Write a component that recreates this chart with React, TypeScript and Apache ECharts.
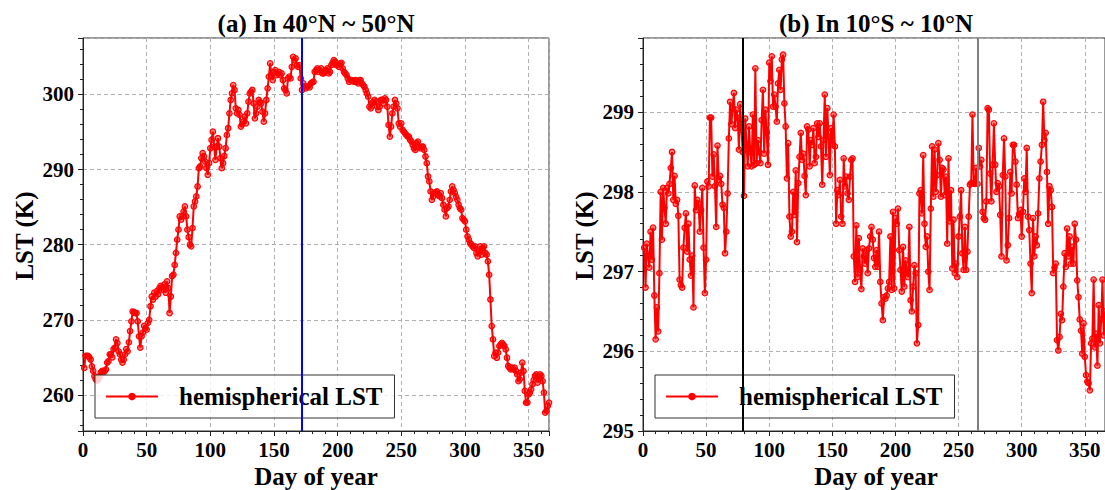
import React, { useEffect, useRef } from "react";
import * as echarts from "echarts";

const titleA = "(a) In 40°N ~ 50°N";
const titleB = "(b) In 10°S ~ 10°N";
const seriesName = "hemispherical LST";
const xName = "Day of year";
const yName = "LST (K)";

// Day-of-year reference lines
const linesA = [{ day: 172, color: "#0000ff" }];
const linesB = [
  { day: 79, color: "#000000" },
  { day: 265, color: "#808080" },
];

// Panel (a): daily LST, 40°N ~ 50°N, days 1..366
const lstA = [
  263.6, 265.2, 265.2, 265.2, 265.0, 264.7, 263.8, 263.2, 262.5, 262.1,
  261.9, 262.1, 262.5, 263.0, 263.2, 263.0, 263.2, 263.4, 264.3, 264.5,
  265.4, 265.4, 265.0, 266.1, 266.3, 267.4, 266.9, 265.8, 265.4, 264.7,
  264.3, 264.7, 265.4, 266.1, 265.8, 267.0, 268.5, 269.8, 271.1, 271.0,
  270.9, 270.9, 269.8, 267.8, 266.3, 267.8, 268.3, 269.2, 268.9, 268.7,
  269.6, 270.0, 271.8, 273.1, 272.7, 273.6, 273.1, 273.8, 273.4, 274.2,
  274.5, 274.3, 274.0, 274.7, 273.6, 275.1, 274.2, 270.9, 273.1, 275.8,
  276.0, 277.3, 278.9,
  280.66, 281.99, 283.76, 283.32, 283.76, 284.42, 285.09, 283.76, 281.99, 281.0,
  280.0, 279.78, 282.21, 285.09, 285.75, 286.42, 287.74, 290.18, 290.4, 291.5,
  292.17, 291.73, 291.06, 290.2, 289.29, 290.84, 292.83, 293.94, 295.04, 293.05,
  291.28, 293.05, 294.16, 293.05, 291.5, 290.18, 290.84, 291.8, 292.83, 294.6,
  295.49, 297.48, 299.25, 300.13, 301.24, 300.58, 298.14, 297.48, 297.92, 297.26,
  295.71, 296.0, 296.37, 297.04, 296.15, 297.48, 299.03, 300.13, 300.35, 300.58,
  298.81, 296.81, 297.48, 298.36, 299.25, 299.0, 298.81, 297.7, 296.37, 297.48,
  299.25, 300.8, 302.35, 304.12, 302.57, 301.9, 303.0, 303.23, 302.57, 302.8,
  303.0, 302.57, 302.79, 301.9, 300.8, 300.58, 300.13, 302.12, 302.35, 302.12,
  303.67, 305.0, 304.56, 304.78, 303.89, 303.67, 303.89, 302.12, 300.58, 301.46,
  301.02, 300.8, 301.02, 301.1, 300.93, 301.46, 301.6, 301.68, 303.0, 303.23,
  303.45, 303.0, 303.23, 303.45, 302.79, 302.79, 303.0, 303.23, 303.45, 302.79,
  303.0, 303.89, 304.2, 304.56, 304.34, 303.89, 303.89, 303.67, 304.12, 304.2,
  303.45, 303.0, 302.79, 302.57, 302.12, 301.68, 301.9, 301.9, 301.8, 301.68,
  301.9, 301.68, 301.46, 301.9, 301.9, 301.46, 301.24, 301.02, 300.58, 300.13,
  299.69, 298.36, 298.14, 298.81, 299.0, 299.25, 299.03, 298.36, 297.92, 298.36,
  299.25, 299.25, 298.81, 299.47, 299.25, 298.36, 295.93, 294.38, 295.71, 297.48,
  298.36, 299.25, 298.81, 298.14, 296.15, 295.71, 296.15, 295.27, 295.04, 294.82,
  294.6, 294.38, 294.38, 293.94, 293.72, 293.27, 292.83, 292.61,
  293.5, 293.72, 293.05, 292.83, 293.05, 293.05, 292.61, 291.73, 290.84, 289.07,
  288.41, 287.08, 285.97, 286.42, 286.86, 287.0, 287.08, 286.64, 286.42, 286.86,
  286.19, 285.31, 284.65, 283.76, 284.87, 285.09, 285.97, 287.08, 287.74, 287.3,
  286.86, 286.4, 285.97, 285.31, 284.87, 284.65, 283.54, 283.32, 283.1, 281.99,
  281.11, 280.66, 280.22, 280.0, 279.78, 279.56,
  279.78, 278.89, 278.45, 279.11, 279.78, 278.67, 279.55, 279.78, 278.89, 278.67,
  277.78, 276.01, 272.7, 269.16, 267.39, 265.17, 265.62, 264.95, 265.62, 266.5,
  266.7, 266.94, 266.72, 266.5, 266.06, 264.95, 263.85, 263.63, 263.4, 263.63,
  263.4, 263.63, 263.2, 262.74, 261.85, 262.08, 262.96, 264.29, 263.18, 260.53,
  258.98, 258.98, 260.08, 260.31, 260.75, 261.41, 262.0, 262.52, 262.74, 261.63,
  262.08, 262.74, 262.52, 261.85, 260.31, 257.65, 257.87, 258.54, 258.98,
];

// Panel (b): daily LST, 10°S ~ 10°N, days 1..366
const lstB = [
  297.3, 296.8, 297.35, 297.2, 297.05, 297.5, 297.15, 297.55, 296.7, 296.15,
  296.55, 296.25, 296.98, 298.0, 297.4, 298.05, 297.8, 297.6, 298.05, 297.98,
  298.1, 298.3, 298.5, 297.9, 298.2, 297.85, 297.9, 297.7, 296.9, 296.83,
  296.8, 297.3, 297.55, 297.73, 297.25, 297.6, 297.15, 296.95, 297.2, 296.55,
  298.08, 297.77, 297.9, 297.85, 297.5, 297.77, 298.05, 297.3, 296.73, 297.15,
  298.13, 298.07, 298.93, 298.93, 298.19, 298.47, 298.07, 297.56, 298.58, 298.15,
  298.2, 298.1, 297.84, 297.8, 297.23, 297.5, 297.98, 298.67, 299.13, 298.85,
  299.05, 299.24, 298.8, 299.03, 298.93, 298.53, 299.1, 298.78, 298.5, 297.95,
  298.92, 298.6, 298.32, 298.82, 298.5, 298.32, 298.97, 298.34, 299.55, 298.36,
  298.65, 298.5, 298.36, 298.9, 299.28, 298.48, 299.03, 298.74, 298.34, 299.62,
  299.39, 299.7, 299.07, 299.22, 299.07, 298.88, 299.36, 299.53, 299.28, 299.66,
  299.72, 299.11, 298.82, 298.17, 298.61, 297.69, 297.44, 297.5, 298.0, 297.71,
  298.27, 297.37, 298.11, 298.44, 298.74, 298.4, 298.48, 298.2, 297.96, 298.82,
  298.78, 298.32, 298.65, 298.59, 298.8, 298.36, 298.44, 298.86, 298.69, 298.86,
  298.57, 298.09, 298.65, 299.22, 298.44, 299.05, 298.69, 298.21, 298.8, 298.6,
  298.97, 298.57, 297.6, 298.02, 297.96, 298.15, 297.69, 297.6, 298.42, 298.07,
  298.19, 297.98, 297.9, 298.19, 298.4, 298.42, 297.19, 296.87, 297.58, 296.93,
  297.42, 297.02, 296.78, 297.29, 297.19, 297.1, 297.27, 296.98, 297.29, 297.44,
  297.56, 297.4, 297.17, 297.06, 297.27, 297.06, 297.5, 296.87, 296.6, 296.39,
  296.68, 296.66, 296.7, 296.79, 296.87, 297.44, 296.77, 297.75, 296.79, 297.67,
  297.6, 297.79, 297.27, 297.02, 296.75, 297.31, 296.81, 297.14, 296.98, 296.93,
  297.56, 296.64, 296.5, 296.81, 297.08, 296.98, 296.1, 296.33, 297.98, 298.02,
  297.73, 298.46, 297.6, 297.31, 297.44, 297.0, 296.77, 297.79, 298.57, 297.94,
  298.53, 298.0, 298.21, 298.61, 298.4, 297.94, 298.3, 298.28, 297.96, 298.19,
  297.35, 298.42, 297.63, 298.02, 297.04, 297.65, 296.98, 297.1, 296.93, 297.44,
  297.69, 298.02, 297.23, 297.02, 297.56, 297.02, 297.25, 297.69, 298.09, 298.11,
  298.97, 298.11, 298.1, 298.3, 298.1, 298.55, 298.32, 298.4, 297.75, 297.67,
  297.65, 297.88, 299.05, 299.03, 298.23, 297.88, 298.34, 298.86, 298.34, 298.0,
  298.11, 298.07, 297.71, 297.19, 298.21, 298.67, 298.19, 297.14, 297.33, 297.67,
  298.25, 297.98, 298.59, 298.59, 298.38, 298.09, 297.67, 297.72, 297.77, 297.44,
  297.75, 298.17, 298.0, 298.55, 297.69, 297.52, 297.1, 296.73, 297.67, 297.19,
  297.44, 297.33, 297.73, 298.17, 298.38, 298.59, 299.13, 298.65, 298.74, 298.25,
  297.6, 298.07, 298.02, 297.81, 296.98, 297.05, 297.1, 296.14, 296.01, 296.18,
  296.47, 296.39, 296.81, 297.23, 297.06, 297.54, 297.19, 297.44, 297.1, 297.31,
  297.1, 297.6, 297.4, 296.89, 296.68, 296.4, 296.26, 295.97, 296.35, 295.93,
  295.7, 295.62, 295.6, 295.51, 296.1, 296.16, 296.9, 296.05, 296.22, 295.82,
  296.58, 296.1, 296.4, 296.9, 296.2, 296.5,
];

const FONT = "'Liberation Serif', 'Times New Roman', serif";
const AXIS_COLOR = "#222";

const toPairs = (vals: number[]) => vals.map((v, i) => [i + 1, v]);

function makeXAxis(gridIndex: number) {
  return {
    type: "value",
    gridIndex,
    min: 0,
    max: 366,
    interval: 50,
    axisLine: { show: true, onZero: false, lineStyle: { color: AXIS_COLOR, width: 1 } },
    axisTick: { show: true, length: 5, lineStyle: { color: AXIS_COLOR, width: 1 } },
    minorTick: { show: true, splitNumber: 5, length: 3, lineStyle: { color: AXIS_COLOR, width: 1 } },
    axisLabel: {
      margin: 8,
      fontFamily: FONT,
      fontWeight: "bold",
      fontSize: 21,
      color: "#000",
      showMaxLabel: false,
    },
    splitLine: { show: true, lineStyle: { color: "#b0b0b0", width: 1, type: [4, 3] } },
  };
}

function makeYAxis(gridIndex: number, min: number, max: number, extra: any) {
  const { hideMin, ...rest } = extra;
  return {
    type: "value",
    gridIndex,
    min,
    max,
    ...rest,
    axisLine: { show: true, onZero: false, lineStyle: { color: AXIS_COLOR, width: 1 } },
    axisTick: { show: true, length: 5, lineStyle: { color: AXIS_COLOR, width: 1 } },
    minorTick: { show: true, splitNumber: 5, length: 3, lineStyle: { color: AXIS_COLOR, width: 1 } },
    axisLabel: {
      margin: 9,
      fontFamily: FONT,
      fontWeight: "bold",
      fontSize: 21,
      color: "#000",
      showMaxLabel: false,
      ...(hideMin ? { showMinLabel: false } : {}),
    },
    splitLine: { show: true, lineStyle: { color: "#b0b0b0", width: 1, type: [4, 3] } },
  };
}

function makeSeries(idx: number, vals: number[], lines: { day: number; color: string }[]) {
  return {
    type: "line",
    name: seriesName,
    xAxisIndex: idx,
    yAxisIndex: idx,
    data: toPairs(vals),
    symbol: "circle",
    symbolSize: 5.5,
    showSymbol: true,
    lineStyle: { color: "#ff0000", width: 2 },
    itemStyle: { color: "rgba(255,0,0,0.5)", borderColor: "#ff0000", borderWidth: 1.2 },
    emphasis: { disabled: true },
    markLine: {
      silent: true,
      symbol: ["none", "none"],
      label: { show: false },
      emphasis: { disabled: true },
      lineStyle: { type: "solid", width: 2 },
      data: lines.map((l) => ({ xAxis: l.day, lineStyle: { color: l.color, width: 2, type: "solid" } })),
    },
  };
}

function makeLegend(left: number) {
  return {
    data: [{ name: seriesName, itemStyle: { color: "#ff0000", borderColor: "#ff0000" } }],
    left,
    top: 375,
    orient: "horizontal",
    selectedMode: false,
    padding: [9, 12, 9, 10],
    itemWidth: 52,
    itemHeight: 7,
    backgroundColor: "rgba(255,255,255,0.8)",
    borderColor: "#333",
    borderWidth: 1,
    borderRadius: 0,
    textStyle: {
      fontFamily: FONT,
      fontWeight: "bold",
      fontSize: 25,
      color: "#000",
      lineHeight: 25,
      padding: [0, 0, 0, 16],
    },
  };
}

function textEl(text: string, x: number, y: number, rotate = false) {
  return {
    type: "text",
    x,
    y,
    rotation: rotate ? Math.PI / 2 : 0,
    style: {
      text,
      fontFamily: FONT,
      fontWeight: "bold",
      fontSize: 25,
      fill: "#000",
      align: "center",
      verticalAlign: "middle",
      textAlign: "center",
      textVerticalAlign: "middle",
    },
  };
}

export default function App() {
  const ref = useRef<HTMLDivElement>(null);
  useEffect(() => {
    if (!ref.current) return;
    const chart = echarts.init(ref.current, undefined, { renderer: "svg" });
    const gridStyle = { show: true, borderColor: "#333", borderWidth: 1, backgroundColor: "transparent" };
    chart.setOption({
      animation: false,
      backgroundColor: "#fff",
      grid: [
        { left: 83, top: 38, width: 466, height: 393, ...gridStyle },
        { left: 643, top: 38, width: 466, height: 393, ...gridStyle },
      ],
      xAxis: [makeXAxis(0), makeXAxis(1)],
      yAxis: [
        makeYAxis(0, 255.2, 307.5, { splitNumber: 5, hideMin: true }),
        makeYAxis(1, 295, 299.93, { interval: 1 }),
      ],
      legend: [makeLegend(95), makeLegend(655)],
      series: [makeSeries(0, lstA, linesA), makeSeries(1, lstB, linesB)],
      graphic: [
        textEl(titleA, 316, 23),
        textEl(titleB, 876, 23),
        textEl(xName, 316, 476),
        textEl(xName, 876, 476),
        textEl(yName, 24, 236, true),
        textEl(yName, 584, 236, true),
      ],
    });
    return () => chart.dispose();
  }, []);
  return (
    <div
      ref={ref}
      style={{ position: "absolute", left: 0, top: 0, width: 1105, height: 490, overflow: "hidden" }}
    />
  );
}
